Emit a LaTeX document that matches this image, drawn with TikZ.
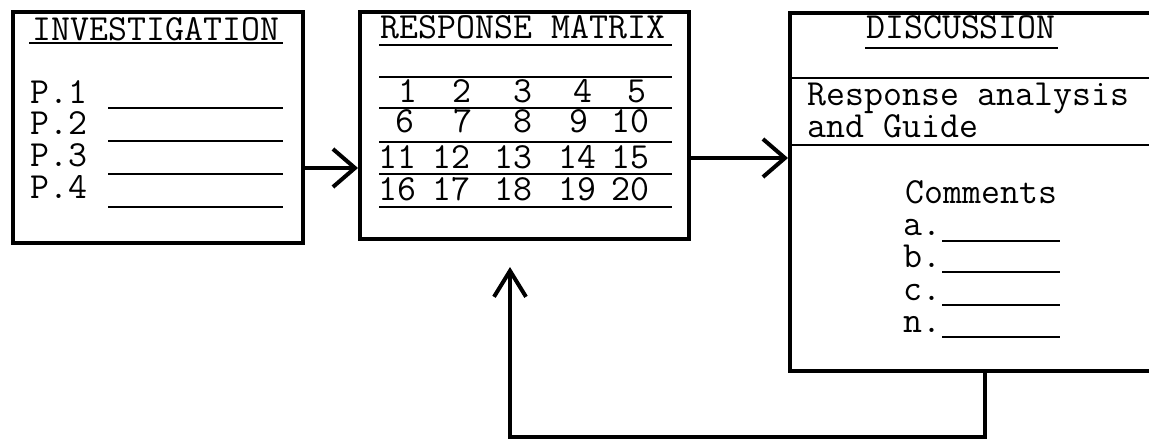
\documentclass[tikz,border=0pt]{standalone}
\usepackage{fontspec}
\usetikzlibrary{arrows.meta}
\newcommand{\typew}{\fontsize{18.4pt}{22pt}\selectfont\ttfamily}

\begin{document}
\begin{tikzpicture}[x=0.5pt, y=-0.5pt,
    box/.style={draw, line width=2pt, inner sep=0pt},
    txt/.style={font=\typew, inner sep=0pt},
    rule/.style={line width=1.1pt},
    arr/.style={-{Straight Barb[length=11pt, width=19pt]}, line width=2pt}]
    \useasboundingbox (0,0) rectangle (1149,439);
    \node [box, minimum width=145pt, minimum height=115.5pt] (inv) at (158,127.5) {};
    \node [box, minimum width=164.5pt, minimum height=113.5pt] (matrix) at (524.5,125.5) {};
    \node [box, minimum width=187.5pt, minimum height=179pt] (disc) at (977.5,192) {};
    % investigation
    \node [txt, anchor=base] (invtitle) at (156,40) {INVESTIGATION};
    \draw [rule] (29,43) -- (283,43);
    \foreach \i in {1,...,4} {
        \node [txt, anchor=base west] (p\i) at (30,{103+(\i-1)*31.7}) {P.\i};
        \draw [rule] (108,{108+(\i-1)*33}) -- (283,{108+(\i-1)*33});
    }
    % response matrix
    \node [txt, anchor=base] (mattitle) at (523,38) {RESPONSE MATRIX};
    \foreach \y in {45,77,108,142,174,207}
        \draw [rule] (379,\y) -- (672,\y);
    \foreach \n/\x/\y in {1/408/102, 2/462/102, 3/523/102, 4/583/102, 5/637/102,
        6/405/132, 7/463/132, 8/523/132, 9/579/132, 10/630/132,
        11/397/168, 12/451/168, 13/513/168, 14/577/168, 15/630/168,
        16/397/200, 17/451/200, 18/513/200, 19/577/200, 20/630/200}
        \node [txt, anchor=base] (m\n) at (\x,\y) {\n};
    % discussion
    \node [txt, anchor=base] (disctitle) at (961,39) {DISCUSSION};
    \draw [rule] (865,48) -- (1058,48);
    \coordinate (h1) at (0,78);
    \coordinate (h2) at (0,145);
    \draw [line width=1.1pt] (disc.west |- h1) -- (disc.east |- h1);
    \draw [line width=1.1pt] (disc.west |- h2) -- (disc.east |- h2);
    \node [txt, anchor=base west] (resp) at (807,105) {Response analysis};
    \node [txt, anchor=base west] (guide) at (807,137) {and Guide};
    \node [txt, anchor=base west] (comm) at (905,203) {Comments};
    \foreach \c/\y/\l in {a/235/241, b/267/272, c/300/305, n/332/337} {
        \node [txt, anchor=base west] (c\c) at (903,\y) {\c.};
        \draw [rule] (942,\l) -- (1060,\l);
    }
    % connectors
    \coordinate (a1) at (0,168);
    \coordinate (a2) at (0,158);
    \coordinate (fb) at (985,437);
    \coordinate (up) at (510,267);
    \draw [arr] (inv.east |- a1) -- (matrix.west |- a1);
    \draw [arr] (matrix.east |- a2) -- (disc.west |- a2);
    \draw [arr, -{Straight Barb[length=13pt, width=16pt]}] (disc.south -| fb) -- (fb) -| (up);
\end{tikzpicture}
\end{document}
